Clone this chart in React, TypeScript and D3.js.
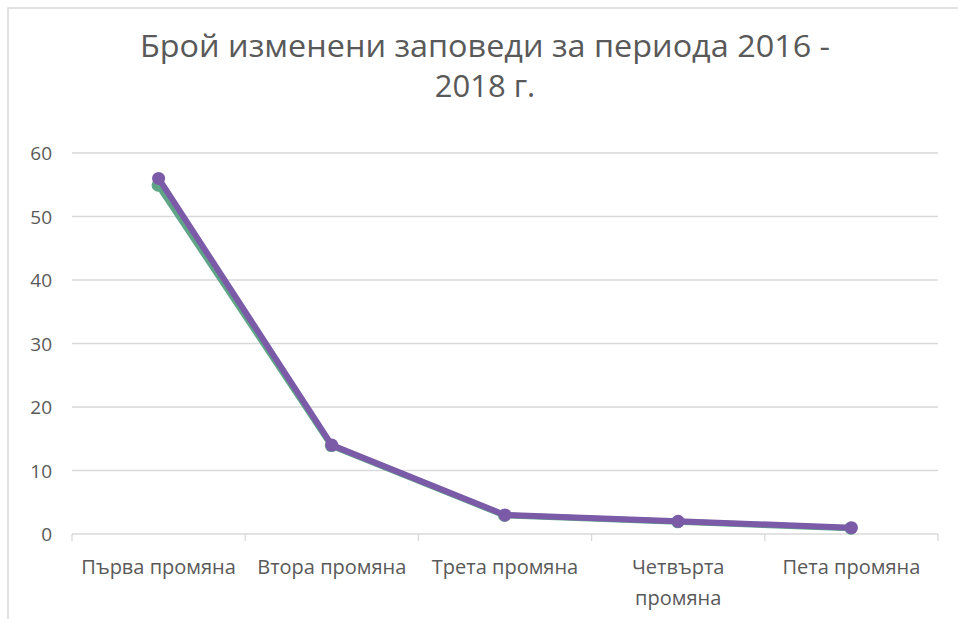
import React from "react";
import * as d3 from "d3";

const categories = ["Първа промяна", "Втора промяна", "Трета промяна", "Четвърта промяна", "Пета промяна"];
const seriesA = [55, 14, 3, 2, 1];
const seriesB = [56, 14, 3, 2, 1];
const yTicks = [0, 10, 20, 30, 40, 50, 60];
const titleLines = ["Брой изменени заповеди за периода 2016 -", "2018 г."];

const W = 958, H = 619;
const left = 72, right = 938, top = 153, bottom = 534;
const font = "'Open Sans', 'Noto Sans', sans-serif";

export default function App() {
  const x = d3.scaleBand<string>().domain(categories).range([left, right]);
  const y = d3.scaleLinear().domain([0, 60]).range([bottom, top]);
  const line = d3.line<number>().x((_, i) => (x(categories[i]) as number) + x.bandwidth() / 2).y((d) => y(d));
  const bounds = [...categories.map((c) => x(c) as number), right];
  const series = [
    { values: seriesA, color: "#5fa487", dx: -0.5, dy: 0.5 },
    { values: seriesB, color: "#7b5ba8", dx: 0, dy: 0 },
  ];
  return (
    <svg width={W} height={H} style={{ position: "absolute", left: 0, top: 0, background: "#fff" }} fontFamily={font}>
      <rect x={8} y={8} width={W + 20} height={H + 20} fill="#fff" stroke="#d9d9d9" strokeWidth={1.5} />
      {titleLines.map((t, i) => (
        <text key={i} x={485} y={57 + i * 40} textAnchor="middle" fontSize={31} fill="#595959" textLength={i === 0 ? 690 : undefined} lengthAdjust="spacingAndGlyphs">{t}</text>
      ))}
      {yTicks.map((v) => (
        <g key={v}>
          <line x1={left} x2={right} y1={y(v)} y2={y(v)} stroke="#d9d9d9" strokeWidth={1.3} />
          <text x={52} y={y(v) + 7} textAnchor="end" fontSize={19} fill="#595959">{v}</text>
        </g>
      ))}
      {bounds.map((b, i) => (
        <line key={i} x1={b} x2={b} y1={bottom} y2={bottom + 7} stroke="#d9d9d9" strokeWidth={1.3} />
      ))}
      {categories.map((c) => {
        const cx = (x(c) as number) + x.bandwidth() / 2;
        const parts = c === "Четвърта промяна" ? ["Четвърта", "промяна"] : [c];
        return (
          <text key={c} x={cx} y={574} textAnchor="middle" fontSize={20} fill="#595959">
            {parts.map((p, i) => (
              <tspan key={i} x={cx} dy={i === 0 ? 0 : 31}>{p}</tspan>
            ))}
          </text>
        );
      })}
      {series.map((s, k) => (
        <g key={k} transform={`translate(${s.dx},${s.dy})`}>
          <path d={line(s.values) || ""} fill="none" stroke={s.color} strokeWidth={6} strokeLinejoin="round" strokeLinecap="round" />
          {s.values.map((v, i) => (
            <circle key={i} cx={(x(categories[i]) as number) + x.bandwidth() / 2} cy={y(v)} r={6.5} fill={s.color} />
          ))}
        </g>
      ))}
    </svg>
  );
}
